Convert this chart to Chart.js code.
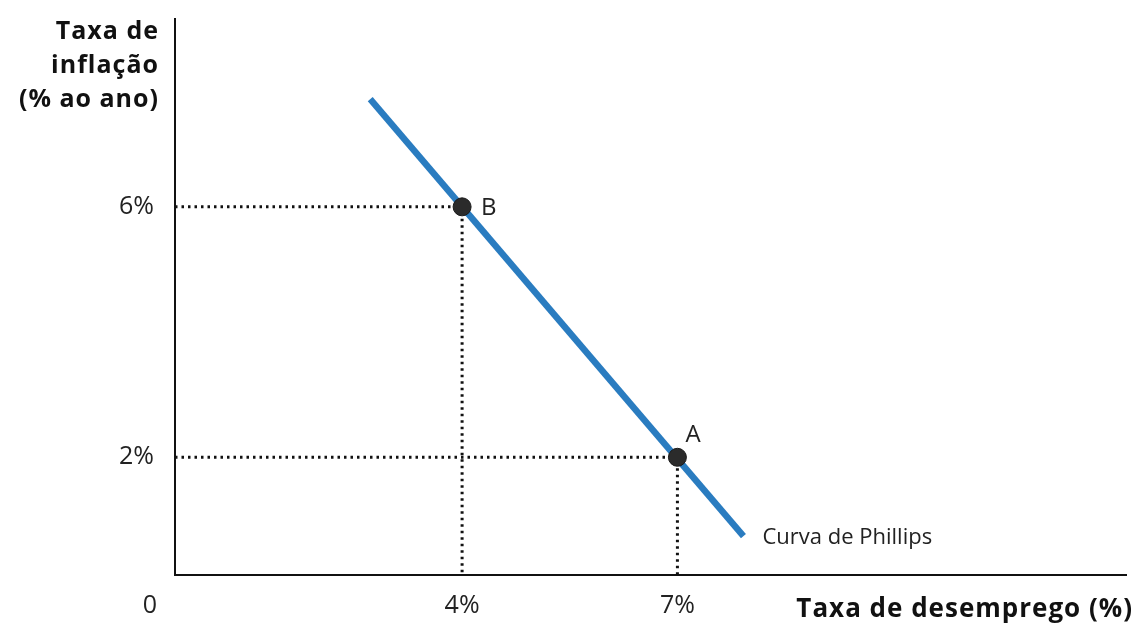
<!DOCTYPE html>
<html>
<head>
<meta charset="utf-8">
<script src="https://cdn.jsdelivr.net/npm/chart.js@4"></script>
<style>
  body { margin: 0; background: #fff; }
  #wrap { width: 1136px; height: 625px; position: relative; }
</style>
</head>
<body>
<div id="wrap"><canvas id="myChart"></canvas></div>
<script>
'use strict';

// curve ends and marked points (unemployment %, inflation %)
const curveX = [2.72, 7.92];
const curveY = [7.72, 0.74];
const pointNames = ['B', 'A'];
const pointX = [4, 7];
const pointY = [6, 2];
const xTicks = [4, 7];
const yTicks = [2, 6];

const chartCanvas = document.getElementById('myChart');
const font = '"Open Sans", "Noto Sans", sans-serif';

function toXY(xs, ys) {
  const out = [];
  for (let i = 0; i < xs.length; i++) {
    out.push({ x: xs[i], y: ys[i] });
  }
  return out;
}

// dotted guide lines from each point to both axes
const guides = [];
for (let i = 0; i < pointX.length; i++) {
  guides.push({
    data: [{ x: 0, y: pointY[i] }, { x: pointX[i], y: pointY[i] }, { x: pointX[i], y: 0.12 }],
    borderColor: '#111',
    borderWidth: 3,
    borderDash: [2.5, 4],
    pointRadius: 0,
    showLine: true,
  });
}

const labelsPlugin = {
  id: 'labels',
  afterDatasetsDraw(chart) {
    const ctx = chart.ctx;
    const xs = chart.scales.x;
    const ys = chart.scales.y;
    ctx.save();
    ctx.fillStyle = '#222';
    ctx.textBaseline = 'middle';

    // point names
    ctx.font = '24px ' + font;
    ctx.textAlign = 'left';
    ctx.fillText(pointNames[0], xs.getPixelForValue(pointX[0]) + 19, ys.getPixelForValue(pointY[0]) + 1);
    ctx.fillText(pointNames[1], xs.getPixelForValue(pointX[1]) + 8, ys.getPixelForValue(pointY[1]) - 22);

    // curve name
    ctx.font = '22px ' + font;
    ctx.fillText('Curva de Phillips', xs.getPixelForValue(curveX[1]) + 19, ys.getPixelForValue(curveY[1]) + 2);

    // origin
    ctx.font = '25px ' + font;
    ctx.textAlign = 'center';
    ctx.fillText('0', 150, 606);

    // axis titles
    ctx.font = 'bold 25px ' + font;
    ctx.letterSpacing = '1px';
    ctx.fillStyle = '#111';
    ctx.textAlign = 'right';
    ctx.fillText('Taxa de', 159, 32);
    ctx.fillText('inflação', 159, 66);
    ctx.fillText('(% ao ano)', 159, 100);
    ctx.font = 'bold 26px ' + font;
    ctx.fillText('Taxa de desemprego (%)', 1133, 610);
    ctx.restore();
  },
};

function createPhillipsChart() {
  return new Chart(chartCanvas, {
    type: 'scatter',
    data: {
      datasets: [
        {
          data: toXY(pointX, pointY),
          pointRadius: 9,
          pointBackgroundColor: '#2b2b2b',
          pointBorderColor: '#1a1a1a',
          pointBorderWidth: 1,
          showLine: false,
        },
        {
          data: toXY(curveX, curveY),
          borderColor: '#2a7cc0',
          borderWidth: 6.5,
          pointRadius: 0,
          showLine: true,
        },
        ...guides,
      ],
    },
    options: {
      responsive: true,
      maintainAspectRatio: false,
      animation: false,
      layout: { padding: { top: 15, right: 6, left: 119, bottom: 0 } },
      plugins: {
        legend: { display: false },
        tooltip: { enabled: false },
      },
      scales: {
        x: {
          type: 'linear',
          min: 0,
          max: 13.25,
          afterBuildTicks(scale) {
            scale.ticks = xTicks.map(v => ({ value: v }));
          },
          afterFit(scale) { scale.height = 50; },
          grid: { display: false, drawTicks: false },
          border: { display: true, color: '#111', width: 2 },
          ticks: {
            padding: 16,
            color: '#222',
            font: { family: font, size: 25 },
            callback: v => v + '%',
          },
        },
        y: {
          type: 'linear',
          min: 0.12,
          max: 9.0,
          afterBuildTicks(scale) {
            scale.ticks = yTicks.map(v => ({ value: v }));
          },
          afterFit(scale) { scale.width = 56; },
          grid: { display: false, drawTicks: false },
          border: { display: true, color: '#111', width: 2 },
          ticks: {
            padding: 4,
            crossAlign: 'far',
            color: '#222',
            font: { family: font, size: 25 },
            callback: v => v + '%',
          },
        },
      },
    },
    plugins: [labelsPlugin],
  });
}

createPhillipsChart();
</script>
</body>
</html>
